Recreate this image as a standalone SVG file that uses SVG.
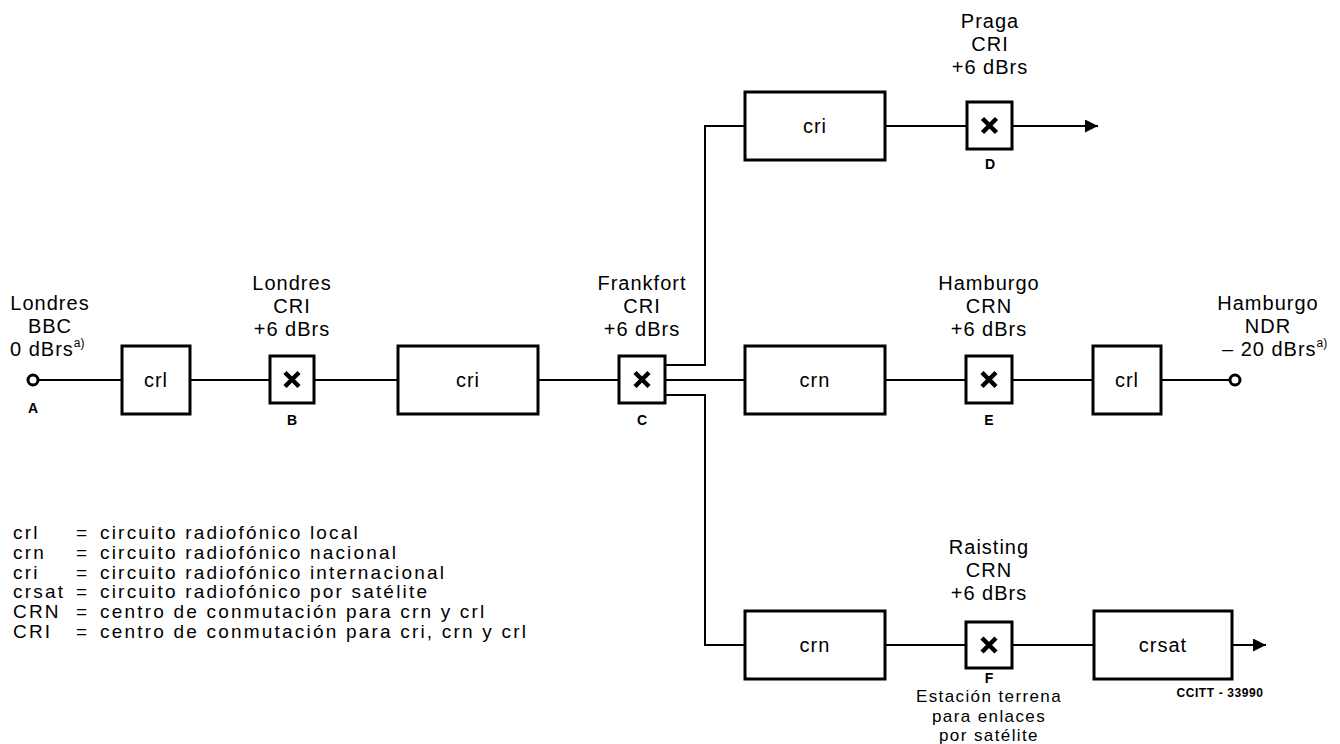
<svg xmlns="http://www.w3.org/2000/svg" width="1340" height="744" viewBox="0 0 1340 744">
<defs>
<style>
text{font-family:"Liberation Sans",Arial,sans-serif;font-size:20px;letter-spacing:1px;fill:#000}
.c{text-anchor:middle}
.lg{font-size:19px;letter-spacing:2.2px}
.sup{font-size:12px;letter-spacing:0}
.lab{font-size:14px;font-weight:bold;letter-spacing:0}
.st{font-size:17px;letter-spacing:1.4px}
.box{fill:#fff;stroke:#000;stroke-width:3}
.ln{fill:none;stroke:#000;stroke-width:2}
.x{stroke:#000;stroke-width:4.5;stroke-linecap:butt;fill:none}
.small{font-size:12px;font-weight:bold;letter-spacing:0.6px}
</style>
<marker id="arr" viewBox="0 0 12 12" refX="12" refY="6" markerWidth="13" markerHeight="13" markerUnits="userSpaceOnUse" orient="auto"><path d="M0,0 L12,6 L0,12 Z" fill="#000"/></marker>
<g id="xmark"><path class="x" d="M-7,-7 L7,7 M7,-7 L-7,7"/></g>
</defs>
<rect width="1340" height="744" fill="#fff"/>

<g id="connectors">
<path class="ln" d="M38,380 H122"/>
<path class="ln" d="M190,380 H270"/>
<path class="ln" d="M314,380 H398"/>
<path class="ln" d="M538,380 H619"/>
<path class="ln" d="M665,365 H705 V126 H745"/>
<path class="ln" d="M665,380 H745"/>
<path class="ln" d="M665,395 H705 V645 H745"/>
<path class="ln" d="M885,126 H967"/>
<path class="ln" d="M1012,126 H1098" marker-end="url(#arr)"/>
<path class="ln" d="M885,380 H966"/>
<path class="ln" d="M1012,380 H1093"/>
<path class="ln" d="M1161,380 H1230"/>
<path class="ln" d="M885,645 H966"/>
<path class="ln" d="M1012,645 H1094"/>
<path class="ln" d="M1232,645 H1266" marker-end="url(#arr)"/>
</g>

<g id="nodeA">
<circle cx="33" cy="380" r="5" fill="#fff" stroke="#000" stroke-width="3"/>
<text class="c" x="50" y="310">Londres</text>
<text class="c" x="50" y="333">BBC</text>
<text x="10" y="356">0 dBrs<tspan class="sup" dy="-9">a)</tspan></text>
<text class="c lab" x="33" y="413">A</text>
</g>

<g id="crl1"><rect class="box" x="122" y="346" width="68" height="68"/><text class="c" x="156" y="387">crl</text></g>

<g id="nodeB">
<rect class="box" x="270" y="356" width="44" height="47"/>
<use href="#xmark" x="292" y="379.5"/>
<text class="c" x="292" y="290">Londres</text>
<text class="c" x="292" y="313">CRI</text>
<text class="c" x="292" y="336">+6 dBrs</text>
<text class="c lab" x="292" y="425">B</text>
</g>

<g id="cri1"><rect class="box" x="398" y="346" width="140" height="68"/><text class="c" x="468" y="387">cri</text></g>

<g id="nodeC">
<rect class="box" x="619" y="356" width="46" height="47"/>
<use href="#xmark" x="642" y="379.5"/>
<text class="c" x="642" y="290">Frankfort</text>
<text class="c" x="642" y="313">CRI</text>
<text class="c" x="642" y="336">+6 dBrs</text>
<text class="c lab" x="642" y="425">C</text>
</g>

<g id="cri2"><rect class="box" x="745" y="92" width="140" height="68"/><text class="c" x="815" y="133">cri</text></g>

<g id="nodeD">
<rect class="box" x="967" y="102" width="45" height="47"/>
<use href="#xmark" x="989.5" y="125.5"/>
<text class="c" x="990" y="28">Praga</text>
<text class="c" x="990" y="51">CRI</text>
<text class="c" x="990" y="74">+6 dBrs</text>
<text class="c lab" x="990" y="169">D</text>
</g>

<g id="crn1"><rect class="box" x="745" y="346" width="140" height="68"/><text class="c" x="815" y="387">crn</text></g>

<g id="nodeE">
<rect class="box" x="966" y="356" width="46" height="47"/>
<use href="#xmark" x="989" y="379.5"/>
<text class="c" x="989" y="290">Hamburgo</text>
<text class="c" x="989" y="313">CRN</text>
<text class="c" x="989" y="336">+6 dBrs</text>
<text class="c lab" x="989" y="425">E</text>
</g>

<g id="crl2"><rect class="box" x="1093" y="346" width="68" height="68"/><text class="c" x="1127" y="387">crl</text></g>

<g id="nodeEnd">
<circle cx="1235" cy="380" r="5" fill="#fff" stroke="#000" stroke-width="3"/>
<text class="c" x="1268" y="310">Hamburgo</text>
<text class="c" x="1268" y="333">NDR</text>
<text x="1222" y="356">– 20 dBrs<tspan class="sup" dy="-9">a)</tspan></text>
</g>

<g id="crn2"><rect class="box" x="745" y="611" width="140" height="68"/><text class="c" x="815" y="652">crn</text></g>

<g id="nodeF">
<rect class="box" x="966" y="622" width="46" height="46"/>
<use href="#xmark" x="989" y="645"/>
<text class="c" x="989" y="554">Raisting</text>
<text class="c" x="989" y="577">CRN</text>
<text class="c" x="989" y="600">+6 dBrs</text>
<text class="c lab" x="989" y="683">F</text>
<text class="c st" x="989" y="702">Estación terrena</text>
<text class="c st" x="989" y="722">para enlaces</text>
<text class="c st" x="989" y="741">por satélite</text>
</g>

<g id="crsat"><rect class="box" x="1094" y="611" width="138" height="68"/><text class="c" x="1163" y="652">crsat</text></g>

<text class="small c" x="1220" y="697">CCITT - 33990</text>

<g id="legend">
<text class="lg" x="13" y="539">crl</text><text class="lg" x="76" y="539">=</text><text class="lg" x="100" y="539">circuito radiofónico local</text>
<text class="lg" x="13" y="559">crn</text><text class="lg" x="76" y="559">=</text><text class="lg" x="100" y="559">circuito radiofónico nacional</text>
<text class="lg" x="13" y="579">cri</text><text class="lg" x="76" y="579">=</text><text class="lg" x="100" y="579">circuito radiofónico internacional</text>
<text class="lg" x="13" y="598">crsat</text><text class="lg" x="76" y="598">=</text><text class="lg" x="100" y="598">circuito radiofónico por satélite</text>
<text class="lg" x="13" y="618">CRN</text><text class="lg" x="76" y="618">=</text><text class="lg" x="100" y="618">centro de conmutación para crn y crl</text>
<text class="lg" x="13" y="638">CRI</text><text class="lg" x="76" y="638">=</text><text class="lg" x="100" y="638">centro de conmutación para cri, crn y crl</text>
</g>
</svg>
